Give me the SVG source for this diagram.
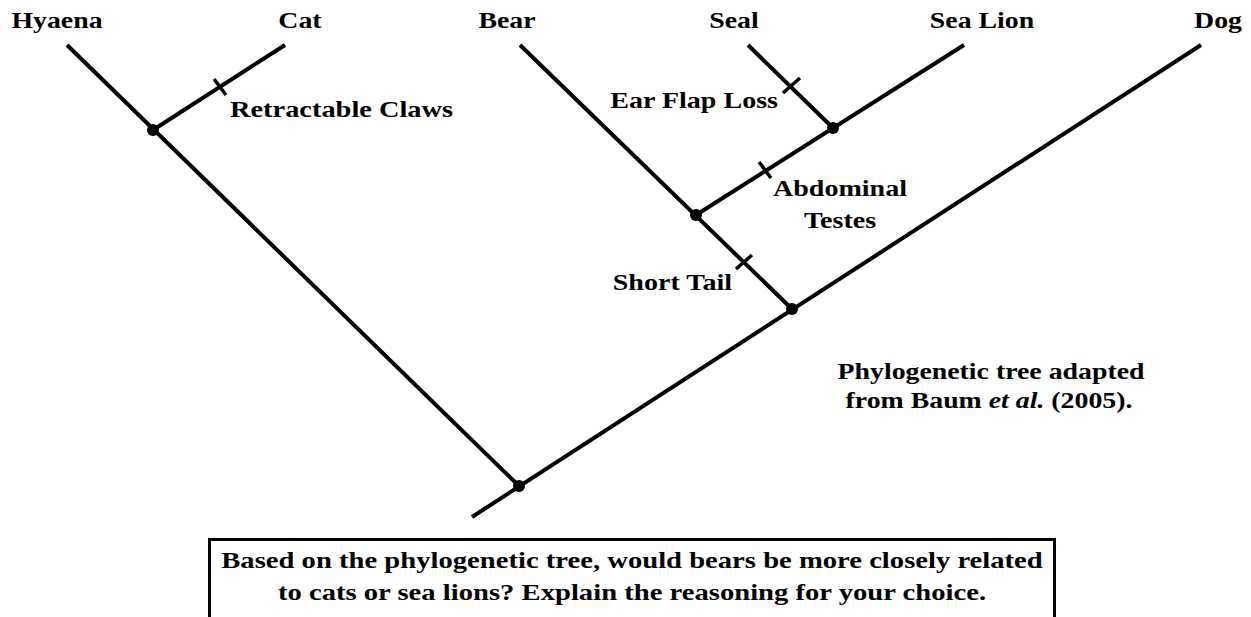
<svg xmlns="http://www.w3.org/2000/svg" width="1251" height="617" viewBox="0 0 1251 617">
<style>
text{font-family:'Liberation Serif',Tinos,'Times New Roman',Times,serif;font-weight:700;font-size:23px;fill:#000}
.m{text-anchor:middle}
.s{text-anchor:start}
.e{text-anchor:end}
.br{stroke:#000;stroke-width:4;stroke-linecap:butt;fill:none}
.tk{stroke:#000;stroke-width:3.5}
.nd{fill:#000}
</style>
<rect width="1251" height="617" fill="#fff"/>
<g id="connectors">
<line class="br" x1="67" y1="45" x2="519" y2="486"/>
<line class="br" x1="153" y1="130" x2="285" y2="45"/>
<line class="br" x1="472" y1="517" x2="1201" y2="45"/>
<line class="br" x1="520" y1="45" x2="792" y2="309"/>
<line class="br" x1="696" y1="215" x2="964" y2="45"/>
<line class="br" x1="748" y1="45" x2="833" y2="128"/>
</g>
<g id="taxon-hyaena"><text class="m" transform="translate(57,28) scale(1.21,1)">Hyaena</text></g>
<g id="taxon-cat"><text class="m" transform="translate(300,28) scale(1.21,1)">Cat</text></g>
<g id="taxon-bear"><text class="m" transform="translate(507,28) scale(1.21,1)">Bear</text></g>
<g id="taxon-seal"><text class="m" transform="translate(734,28) scale(1.21,1)">Seal</text></g>
<g id="taxon-sealion"><text class="m" transform="translate(982,28) scale(1.21,1)">Sea Lion</text></g>
<g id="taxon-dog"><text class="m" transform="translate(1218,28) scale(1.21,1)">Dog</text></g>
<g id="node-hyaena-cat"><circle class="nd" cx="153" cy="130" r="6"/></g>
<g id="node-seal-sealion"><circle class="nd" cx="833" cy="128" r="6"/></g>
<g id="node-bear-pinnipeds"><circle class="nd" cx="696" cy="215" r="6"/></g>
<g id="node-dog-arctoids"><circle class="nd" cx="792" cy="309" r="6"/></g>
<g id="node-root"><circle class="nd" cx="519" cy="486" r="6"/></g>
<g id="trait-retractable-claws">
<line class="tk" x1="214" y1="79" x2="226" y2="95"/>
<text class="s" transform="translate(230,117) scale(1.235,1)">Retractable Claws</text>
</g>
<g id="trait-ear-flap-loss">
<line class="tk" x1="783" y1="93" x2="800" y2="78"/>
<text class="e" transform="translate(778,108) scale(1.22,1)">Ear Flap Loss</text>
</g>
<g id="trait-abdominal-testes">
<line class="tk" x1="759" y1="162" x2="771" y2="178"/>
<text class="m" transform="translate(840,196) scale(1.22,1)">Abdominal</text>
<text class="m" transform="translate(840,228) scale(1.22,1)">Testes</text>
</g>
<g id="trait-short-tail">
<line class="tk" x1="736" y1="269" x2="752" y2="255"/>
<text class="e" transform="translate(732,290) scale(1.22,1)">Short Tail</text>
</g>
<g id="caption">
<text class="m" transform="translate(991,379) scale(1.21,1)">Phylogenetic tree adapted</text>
<text class="m" transform="translate(989,408) scale(1.21,1)">from Baum <tspan font-style="italic">et al.</tspan> (2005).</text>
</g>
<g id="question">
<rect x="209.5" y="539.5" width="845" height="100" fill="none" stroke="#000" stroke-width="3"/>
<text class="m" transform="translate(632,568) scale(1.245,1)">Based on the phylogenetic tree, would bears be more closely related</text>
<text class="m" transform="translate(632,600) scale(1.245,1)">to cats or sea lions? Explain the reasoning for your choice.</text>
</g>
</svg>
